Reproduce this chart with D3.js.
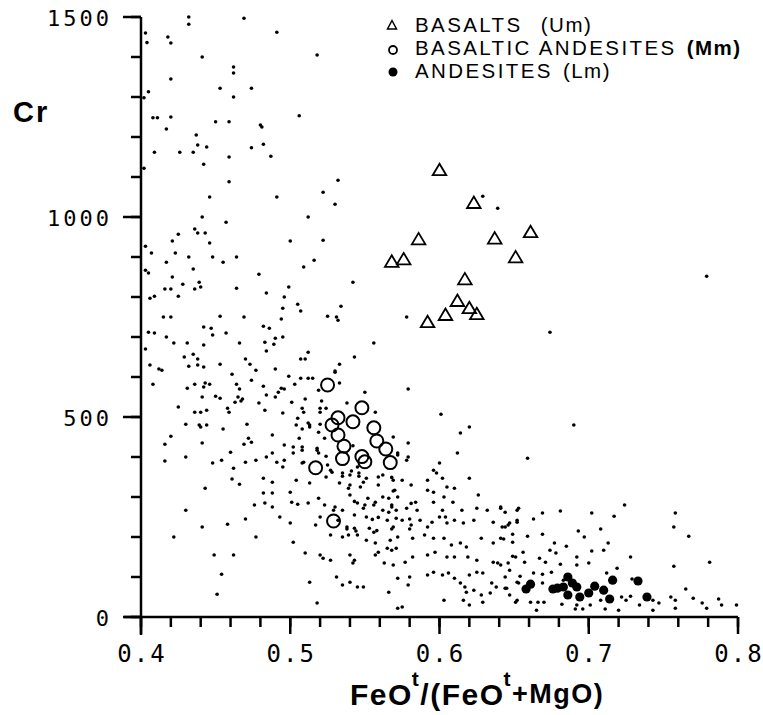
<!DOCTYPE html>
<html>
<head>
<meta charset="utf-8">
<script src="https://cdn.jsdelivr.net/npm/d3@7"></script>
<style>
  body { margin: 0; background: #fff; }
</style>
</head>
<body>
<script>
// ---- data: [FeOt/(FeOt+MgO), Cr] ----
var basalts = [
  [0.600,1117],[0.623,1035],[0.586,944],[0.637,946],[0.661,962],[0.651,899],[0.568,888],
  [0.576,894],[0.617,844],[0.612,790],[0.604,755],[0.620,772],[0.625,757],[0.592,737]
];

var basalticAndesites = [
  [0.525,580],[0.548,523],[0.532,498],[0.528,480],[0.542,488],[0.556,473],[0.532,455],[0.558,440],
  [0.536,427],[0.564,420],[0.535,396],[0.548,401],[0.550,388],[0.567,386],[0.517,373],[0.529,240]
];

var andesites = [
  [0.658,70],[0.661,82],[0.676,70],[0.679,72],[0.686,100],[0.689,85],[0.686,55],[0.694,50],
  [0.704,77],[0.700,60],[0.714,45],[0.716,92],[0.733,90],[0.739,50],[0.683,75],[0.692,75],[0.710,67]
];

var otherSamples = [
  // upper left
  [0.403,1460],[0.404,1436],[0.418,1450],[0.420,1435],[0.432,1500],[0.432,1482],[0.469,1497],[0.441,1400],
  [0.462,1375],[0.462,1360],[0.420,1345],[0.453,1322],[0.474,1322],[0.462,1300],[0.405,1313],[0.402,1298],
  [0.408,1248],[0.411,1248],[0.420,1250],[0.450,1238],[0.459,1238],[0.480,1230],[0.417,1220],[0.437,1205],
  [0.438,1180],[0.444,1175],[0.474,1173],[0.409,1162],[0.426,1162],[0.435,1162],[0.459,1150],[0.442,1132],
  [0.402,1122],[0.459,1088],[0.446,1050],
  [0.491,1462],[0.518,1405],[0.506,1253],[0.481,1225],[0.482,1182],[0.487,1152],[0.532,1092],[0.522,1062],
  [0.491,1050],[0.629,1052],
  // 500-1000, left
  [0.441,1000],[0.457,987],[0.436,970],[0.438,960],[0.443,960],[0.425,957],[0.421,940],[0.446,935],
  [0.403,927],[0.407,910],[0.423,910],[0.432,900],[0.448,900],[0.455,887],[0.464,900],[0.417,887],
  [0.435,870],[0.403,867],[0.405,860],[0.479,857],[0.421,850],[0.428,832],[0.439,837],[0.440,825],
  [0.436,820],[0.416,820],[0.420,820],[0.464,822],[0.425,802],[0.406,797],[0.409,802],[0.415,750],
  [0.420,750],[0.453,752],[0.469,750],[0.442,725],[0.447,722],[0.448,705],[0.457,710],[0.405,712],
  [0.409,710],[0.417,700],[0.422,685],[0.431,685],[0.442,680],[0.466,685],[0.403,670],[0.429,650],
  [0.435,657],[0.438,645],[0.432,627],[0.438,630],[0.442,625],[0.453,632],[0.470,645],[0.473,632],
  [0.477,617],[0.406,630],[0.412,620],[0.414,617],[0.461,607],[0.474,592],[0.408,582],[0.436,582],
  [0.443,585],[0.446,582],[0.431,572],[0.442,575],[0.464,582],[0.466,570],[0.441,550],[0.450,552],
  [0.453,547],[0.465,550],[0.468,545],[0.467,540],[0.463,537],[0.479,535],[0.425,525],[0.436,512],
  [0.440,512],[0.444,517],[0.458,522],[0.459,512],
  // 0-500, left
  [0.430,482],[0.439,480],[0.440,475],[0.444,480],[0.455,470],[0.471,482],[0.420,452],[0.416,432],
  [0.441,435],[0.472,447],[0.474,437],[0.469,432],[0.460,412],[0.430,400],[0.416,390],[0.448,385],
  [0.454,392],[0.462,372],[0.470,387],[0.477,392],[0.461,345],[0.466,332],[0.443,322],[0.476,280],
  [0.430,267],[0.470,245],[0.458,232],[0.441,225],[0.422,200],[0.477,200],[0.449,155],[0.462,155],
  [0.454,107],[0.451,57],
  // 500-1000, middle
  [0.530,1032],[0.512,1000],[0.500,940],[0.522,942],[0.516,892],[0.509,875],[0.639,1022],[0.542,837],
  [0.499,825],[0.484,810],[0.496,800],[0.495,772],[0.505,782],[0.507,765],[0.534,777],[0.494,745],
  [0.525,752],[0.531,750],[0.532,742],[0.578,750],[0.482,727],[0.486,722],[0.490,697],[0.495,700],
  [0.483,687],[0.489,682],[0.484,665],[0.556,685],[0.512,662],[0.507,645],[0.510,645],[0.543,650],
  [0.533,632],[0.530,612],[0.490,620],[0.499,602],[0.507,597],[0.512,597],[0.515,597],[0.533,585],
  [0.482,577],[0.494,572],[0.503,582],[0.550,562],[0.579,570],[0.484,555],[0.490,550],[0.492,562],
  [0.496,570],[0.510,545],[0.521,540],[0.501,537],[0.538,535],[0.601,507],[0.557,512],[0.483,517],
  [0.495,510],[0.509,512],[0.520,512],[0.674,712],[0.779,852],
  // 0-500, middle (dense band)
  [0.488,455],[0.504,480],[0.508,470],[0.513,480],[0.520,482],[0.614,460],[0.620,475],[0.569,450],
  [0.579,435],[0.612,410],[0.496,430],[0.502,425],[0.488,410],[0.502,410],[0.508,417],[0.484,400],
  [0.491,387],[0.496,392],[0.509,387],[0.518,417],[0.572,410],[0.579,400],[0.525,380],[0.600,385],
  [0.495,375],[0.482,347],[0.488,337],[0.504,342],[0.524,350],[0.527,367],[0.535,360],[0.540,355],
  [0.546,360],[0.551,347],[0.559,350],[0.569,342],[0.575,342],[0.596,367],[0.598,360],[0.602,347],
  [0.592,342],[0.605,325],[0.610,322],[0.620,347],[0.513,335],[0.540,330],[0.547,325],[0.549,337],
  [0.581,330],[0.500,312],[0.488,310],[0.540,305],[0.552,297],[0.562,300],[0.572,300],[0.570,317],
  [0.592,317],[0.596,312],[0.603,300],[0.626,305],[0.482,310],[0.501,287],[0.519,297],[0.523,280],
  [0.529,267],[0.535,267],[0.545,285],[0.488,275],[0.493,250],[0.483,285],[0.549,272],[0.556,280],
  [0.562,267],[0.568,275],[0.571,267],[0.578,272],[0.584,287],[0.585,267],[0.596,287],[0.602,267],
  [0.604,250],[0.609,287],[0.615,267],[0.625,272],[0.632,267],[0.641,272],[0.652,267],[0.500,235],
  [0.520,250],[0.532,242],[0.538,225],[0.543,222],[0.551,250],[0.553,222],[0.556,212],[0.565,242],
  [0.569,225],[0.575,242],[0.581,230],[0.587,242],[0.592,225],[0.595,237],[0.600,250],[0.605,235],
  [0.610,242],[0.616,235],[0.623,242],[0.636,237],[0.642,225],[0.646,230],[0.652,237],[0.527,205],
  [0.535,200],[0.539,205],[0.545,205],[0.551,192],[0.557,185],[0.567,192],[0.572,200],[0.582,197],
  [0.590,205],[0.596,197],[0.603,197],[0.608,180],[0.614,185],[0.618,175],[0.628,197],[0.636,185],
  [0.641,197],[0.649,187],[0.502,187],[0.510,160],[0.520,155],[0.522,147],[0.527,142],[0.540,155],
  [0.543,142],[0.542,135],[0.557,155],[0.559,162],[0.565,172],[0.568,167],[0.571,172],[0.563,135],
  [0.569,130],[0.577,137],[0.582,150],[0.592,155],[0.597,162],[0.605,150],[0.610,150],[0.619,150],
  [0.625,142],[0.636,137],[0.639,135],[0.646,135],[0.651,150],[0.513,87],[0.531,100],[0.540,87],
  [0.535,80],[0.545,75],[0.549,75],[0.566,62],[0.572,97],[0.580,100],[0.579,80],[0.592,105],
  [0.596,112],[0.602,105],[0.606,110],[0.610,97],[0.614,85],[0.617,75],[0.620,105],[0.625,112],
  [0.629,110],[0.635,85],[0.638,75],[0.645,72],[0.652,87],[0.618,62],[0.623,67],[0.628,55],
  [0.634,60],[0.603,42],[0.616,42],[0.620,30],[0.629,37],[0.651,37],[0.518,35],[0.572,22],[0.575,25],
  // around the circle cluster
  [0.530,615],[0.519,567],[0.508,522],[0.520,522],[0.524,522],[0.505,497],[0.512,485],[0.513,475],
  [0.506,447],[0.519,462],[0.523,447],[0.508,425],[0.518,422],[0.519,410],[0.524,402],[0.542,428],
  [0.572,405],[0.578,392],[0.508,385],[0.528,362],[0.535,352],[0.541,365],[0.545,375],[0.546,352],
  [0.562,355],[0.568,349],[0.533,335],[0.539,322],[0.559,330],[0.569,315],[0.505,282],[0.512,285],
  [0.530,275],[0.543,289],[0.550,280],[0.557,287],[0.566,297],[0.568,280],[0.581,284],[0.543,255],
  [0.555,244],[0.559,249],[0.566,262],[0.571,247],[0.580,245],[0.517,230],[0.538,220],[0.544,215],
  [0.558,216],[0.568,220],[0.580,220],
  // lower right
  [0.690,480],[0.659,397],[0.641,275],[0.644,262],[0.653,272],[0.652,242],[0.647,235],[0.644,225],
  [0.669,260],[0.681,265],[0.702,260],[0.724,280],[0.758,260],[0.663,245],[0.717,252],[0.708,220],
  [0.693,215],[0.757,225],[0.767,202],[0.659,202],[0.669,207],[0.643,195],[0.649,207],[0.677,185],
  [0.685,177],[0.697,200],[0.713,185],[0.656,162],[0.649,152],[0.674,167],[0.678,160],[0.702,165],
  [0.710,167],[0.728,150],[0.667,147],[0.671,137],[0.692,150],[0.700,135],[0.692,130],[0.681,132],
  [0.657,137],[0.641,130],[0.647,117],[0.757,127],[0.781,137],[0.719,122],[0.712,110],[0.663,110],
  [0.669,107],[0.675,112],[0.654,102],[0.644,100],[0.653,85],[0.669,85],[0.683,92],[0.729,95],
  [0.644,72],[0.647,55],[0.652,42],[0.661,37],[0.666,37],[0.670,37],[0.682,32],[0.692,30],
  [0.708,42],[0.701,30],[0.722,50],[0.725,42],[0.734,30],[0.743,42],[0.747,35],[0.755,50],
  [0.758,42],[0.765,70],[0.770,47],[0.776,35],[0.787,45],[0.789,30],[0.799,30],[0.665,17],
  [0.691,20],[0.720,17],[0.758,22],[0.779,22],[0.743,17],[0.696,20],[0.711,20],[0.728,52]
];

var xMajorTicks = [0.4, 0.5, 0.6, 0.7, 0.8];
var yMajorTicks = [0, 500, 1000, 1500];
var legendNames = ["BASALTS  ", "BASALTIC ANDESITES ", "ANDESITES "];
var legendCodes = ["(Um)", "(Mm)", "(Lm)"];

// ---- setup ----
var svg = d3.select("body").append("svg")
    .attr("width", 763)
    .attr("height", 715)
    .style("background", "#fff");

var x = d3.scaleLinear().domain([0.4, 0.8]).range([141, 738]);
var y = d3.scaleLinear().domain([0, 1500]).range([617, 17]);

var xMinor = d3.range(0, 21).map(function(i) { return 0.4 + i * 0.02; });
var yMinor = d3.range(0, 16).map(function(i) { return i * 100; });

var tickFont = "'DejaVu Sans Mono', monospace";
var axes = svg.append("g").attr("stroke", "#000").attr("stroke-width", 2.5);

// x ticks (downwards), minor every 0.02, major every 0.1
axes.selectAll(".xminor").data(xMinor).enter().append("line")
    .attr("x1", function(d) { return x(d); }).attr("x2", function(d) { return x(d); })
    .attr("y1", y(0)).attr("y2", y(0) + 10);
axes.selectAll(".xmajor").data(xMajorTicks).enter().append("line")
    .attr("x1", function(d) { return x(d); }).attr("x2", function(d) { return x(d); })
    .attr("y1", y(0)).attr("y2", y(0) + 17);

// y ticks (to the left), minor every 100, major every 500
axes.selectAll(".yminor").data(yMinor).enter().append("line")
    .attr("x1", x(0.4) - 10).attr("x2", x(0.4))
    .attr("y1", function(d) { return y(d); }).attr("y2", function(d) { return y(d); });
axes.selectAll(".ymajor").data(yMajorTicks).enter().append("line")
    .attr("x1", x(0.4) - 18).attr("x2", x(0.4))
    .attr("y1", function(d) { return y(d); }).attr("y2", function(d) { return y(d); });

// axis lines, crossing at the origin
axes.append("line")
    .attr("x1", x(0.4)).attr("y1", y(1500))
    .attr("x2", x(0.4)).attr("y2", y(0) + 18);
axes.append("line")
    .attr("x1", x(0.4) - 17).attr("y1", y(0))
    .attr("x2", x(0.8)).attr("y2", y(0));

// tick labels
svg.append("g").selectAll("text").data(xMajorTicks).enter().append("text")
    .attr("x", function(d) { return x(d) + 1; })
    .attr("y", y(0) + 45)
    .attr("text-anchor", "middle")
    .attr("font-family", tickFont)
    .attr("font-size", 24)
    .attr("letter-spacing", 2)
    .text(d3.format(".1f"));

svg.append("g").selectAll("text").data(yMajorTicks).enter().append("text")
    .attr("x", 112)
    .attr("y", function(d) { return y(d) + 9; })
    .attr("text-anchor", "end")
    .attr("font-family", tickFont)
    .attr("font-size", 22)
    .attr("letter-spacing", 3)
    .text(d3.format("d"));

// ---- points ----
svg.append("g").selectAll("circle")
    .data(otherSamples)
    .enter().append("circle")
    .attr("cx", function(d) { return x(d[0]); })
    .attr("cy", function(d) { return y(d[1]); })
    .attr("r", 1.8)
    .attr("fill", "#000");

svg.append("g").selectAll("circle")
    .data(andesites)
    .enter().append("circle")
    .attr("cx", function(d) { return x(d[0]); })
    .attr("cy", function(d) { return y(d[1]); })
    .attr("r", 4.6)
    .attr("fill", "#000");

svg.append("g").selectAll("circle")
    .data(basalticAndesites)
    .enter().append("circle")
    .attr("cx", function(d) { return x(d[0]); })
    .attr("cy", function(d) { return y(d[1]); })
    .attr("r", 6.5)
    .attr("fill", "none")
    .attr("stroke", "#000")
    .attr("stroke-width", 2);

var triPath = "M0,-6.5L6.8,5L-6.8,5Z";
svg.append("g").selectAll("path")
    .data(basalts)
    .enter().append("path")
    .attr("d", triPath)
    .attr("transform", function(d) { return "translate(" + x(d[0]) + "," + y(d[1]) + ")"; })
    .attr("fill", "none")
    .attr("stroke", "#000")
    .attr("stroke-width", 1.8);

// ---- legend ----
var legend = svg.append("g");
legend.append("path").attr("d", "M0,-4.5L4.5,4L-4.5,4Z")
    .attr("transform", "translate(392,25)")
    .attr("fill", "none").attr("stroke", "#000").attr("stroke-width", 1.5);
legend.append("circle").attr("cx", 393).attr("cy", 50).attr("r", 4)
    .attr("fill", "none").attr("stroke", "#000").attr("stroke-width", 1.8);
legend.append("circle").attr("cx", 393).attr("cy", 72).attr("r", 4.5)
    .attr("fill", "#000");

legendNames.forEach(function(name, i) {
    var ty = 31.5 + i * 23;
    var t = legend.append("text")
        .attr("x", 415)
        .attr("y", ty)
        .attr("font-family", "'Liberation Sans', Arial, sans-serif")
        .attr("font-size", 20.5)
        .attr("letter-spacing", 2.4)
        .attr("xml:space", "preserve")
        .text(name);
    var w = t.node().getComputedTextLength();
    legend.append("text")
        .attr("x", 415 + w + 2)
        .attr("y", ty)
        .attr("font-family", "'Liberation Sans', Arial, sans-serif")
        .attr("font-size", 20.5)
        .attr("letter-spacing", 1.5)
        .attr("font-weight", i === 1 ? "bold" : "normal")
        .text(legendCodes[i]);
});

// ---- axis titles ----
svg.append("text")
    .attr("x", 13).attr("y", 122)
    .attr("font-family", "'Liberation Sans', Arial, sans-serif")
    .attr("font-weight", "bold")
    .attr("font-size", 29)
    .attr("letter-spacing", 2)
    .text("Cr");

var xt = svg.append("text")
    .attr("x", 350).attr("y", 705)
    .attr("font-family", "'Liberation Sans', Arial, sans-serif")
    .attr("font-weight", "bold")
    .attr("font-size", 30)
    .attr("letter-spacing", 1.5);
xt.append("tspan").text("FeO");
xt.append("tspan").attr("font-size", 21).attr("dy", -19).attr("dx", -1).text("t");
xt.append("tspan").attr("dy", 19).text("/(FeO");
xt.append("tspan").attr("font-size", 21).attr("dy", -19).attr("dx", -1).text("t");
xt.append("tspan").attr("font-size", 27).attr("dy", 17).text("+MgO)");
</script>
</body>
</html>
